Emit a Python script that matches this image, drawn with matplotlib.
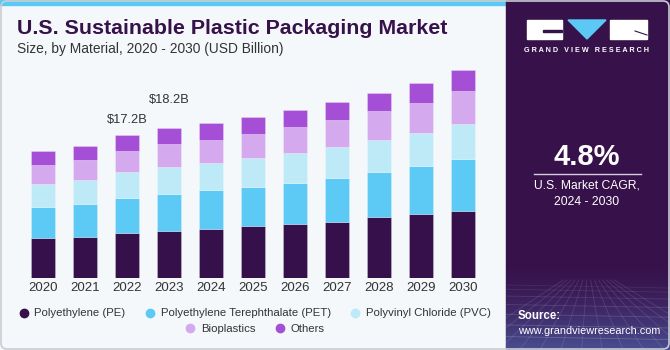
import numpy as np
import matplotlib
matplotlib.use("Agg")
import matplotlib.pyplot as plt
from matplotlib.patches import Rectangle, FancyBboxPatch, Polygon
from matplotlib.lines import Line2D

plt.rcParams['font.family'] = ['Liberation Sans', 'DejaVu Sans']

# data (USD billion)
years = ['2020', '2021', '2022', '2023', '2024', '2025', '2026', '2027', '2028', '2029', '2030']
pe = [4.86, 4.98, 5.42, 5.70, 5.98, 6.34, 6.58, 6.82, 7.34, 7.71, 8.15]
pet = [3.73, 4.01, 4.25, 4.45, 4.66, 4.70, 4.90, 5.26, 5.46, 5.82, 6.26]
pvc = [2.73, 2.85, 3.13, 3.29, 3.29, 3.49, 3.61, 3.77, 3.85, 4.01, 4.17]
bio = [2.37, 2.37, 2.57, 2.69, 2.77, 2.89, 3.09, 3.17, 3.45, 3.61, 3.93]
others = [1.69, 1.77, 1.89, 2.01, 2.05, 2.05, 2.13, 2.17, 2.25, 2.41, 2.60]
series_names = ['Polyethylene (PE)', 'Polyethylene Terephthalate (PET)',
                'Polyvinyl Chloride (PVC)', 'Bioplastics', 'Others']
colors = ['#36104A', '#5DCAF6', '#BEEAF8', '#D5A9EE', '#A54ED6']
labels = {2: '$17.2B', 3: '$18.2B'}
label_offsets = {2: 11, 3: 20}

W, H = 670, 350
fig = plt.figure(figsize=(6.7, 3.5), dpi=100)

# background layer in pixel coordinates
bg = fig.add_axes([0, 0, 1, 1])
bg.axis('off')
bg.add_patch(Rectangle((0, 0), 506, H, color='#F4F8FB', zorder=0))
bg.add_patch(Rectangle((0, 0), 506, 5, color='#5BC8F5', zorder=1))
bg.add_patch(Rectangle((506, 0), W - 506, H, color='#37114A', zorder=1))

# bottom glow of right panel
grad = np.linspace(0, 1, 100) ** 1.5
glow = np.zeros((100, 1, 4))
glow[:, 0, 0] = 0.35
glow[:, 0, 1] = 0.50
glow[:, 0, 2] = 0.80
glow[:, 0, 3] = grad * 0.55
bg.imshow(glow, extent=[506, W, H, 262], aspect='auto', zorder=2, interpolation='bilinear')
for i in range(9):
    yy = 285 + (i ** 1.4) * 4.2
    bg.plot([506, W], [yy, yy + 3], color='white', alpha=0.07 + 0.02 * i, lw=0.6, zorder=3)
for i in range(14):
    x0 = 506 + i * 13
    bg.plot([588 + (x0 - 588) * 0.3, x0 + (x0 - 588) * 0.6], [280, H], color='white', alpha=0.12, lw=0.6, zorder=3)
bg.set_xlim(0, W)
bg.set_ylim(H, 0)

# logo
bg.add_patch(Rectangle((527, 20), 35, 19, color='white', zorder=4))
bg.add_patch(Rectangle((543, 30), 19, 2, color='#37114A', zorder=5))
bg.add_patch(Polygon([[568, 20], [606, 20], [587, 39]], closed=True, color='#5BC8F5', zorder=4))
bg.add_patch(Rectangle((610, 20), 37, 19, color='white', zorder=4))
bg.plot([635, 647], [31, 35], color='#37114A', lw=0.8, zorder=5)
bg.text(587, 51, 'G R A N D   V I E W   R E S E A R C H', color='white', fontsize=5.2,
        fontweight='bold', ha='center', va='center', zorder=4)

bg.text(587, 157, '4.8%', color='white', fontsize=21, fontweight='bold', ha='center', va='center', zorder=4)
bg.plot([534, 641], [173.5, 173.5], color='#D8CCE0', lw=1, zorder=4)
bg.text(587, 186, 'U.S. Market CAGR,', color='white', fontsize=8.7, ha='center', va='center', zorder=4)
bg.text(587, 202, '2024 - 2030', color='white', fontsize=8.7, ha='center', va='center', zorder=4)
bg.text(518, 316, 'Source:', color='white', fontsize=8.3, fontweight='bold', ha='left', va='center', zorder=4)
bg.text(518, 331, 'www.grandviewresearch.com', color='white', fontsize=7.8, ha='left', va='center', zorder=4)

# outer border
bg.add_patch(FancyBboxPatch((1, 1), W - 2, H - 2, boxstyle='round,pad=0,rounding_size=6',
                            fill=False, ec='#C9CDD2', lw=1.2, zorder=6))

# titles
bg.text(17, 28, 'U.S. Sustainable Plastic Packaging Market', color='#37114A', fontsize=15.4,
        fontweight='bold', ha='left', va='center', zorder=4)
bg.text(17, 49, 'Size, by Material, 2020 - 2030 (USD Billion)', color='#333333', fontsize=9.9,
        ha='left', va='center', zorder=4)

# chart axes
base_px = 278.3
top_px = 60
scale = 0.1204
ax = fig.add_axes([22 / W, 1 - base_px / H, (484 - 22) / W, (base_px - top_px) / H])
ax.patch.set_alpha(0)
x = np.arange(len(years))
bottom = np.zeros(len(years))
for vals, c in zip([pe, pet, pvc, bio, others], colors):
    ax.bar(x, vals, width=0.57, bottom=bottom, color=c, edgecolor=(1, 1, 1, 0.35), linewidth=0.5)
    bottom = bottom + np.array(vals)
ax.set_xlim(-0.5, len(years) - 0.5)
ax.set_ylim(0, (base_px - top_px) * scale)
for i, t in labels.items():
    ax.annotate(t, (x[i], bottom[i]), xytext=(0, label_offsets[i]), textcoords='offset points',
                ha='center', va='center', fontsize=9.3, color='#333333')
ax.set_xticks(x)
ax.set_xticklabels(years, fontsize=9.5, color='#333333')
ax.tick_params(axis='x', length=0, pad=3)
ax.set_yticks([])
for s in ax.spines.values():
    s.set_visible(False)

# legend: two centered rows
handles = [Line2D([], [], marker='o', ls='', markersize=6, markerfacecolor=c, markeredgecolor=c)
           for c in colors]
kw = dict(frameon=False, fontsize=8.2, handletextpad=0.55, handlelength=0.8, columnspacing=1.75,
          labelcolor='#333333')
fig.legend(handles[:3], series_names[:3], ncol=3, loc='center', bbox_to_anchor=(255 / W, 1 - 313.5 / H), **kw)
fig.legend(handles[3:], series_names[3:], ncol=2, loc='center', bbox_to_anchor=(255 / W, 1 - 329 / H), **kw)

fig.savefig('out.png', dpi=100)
